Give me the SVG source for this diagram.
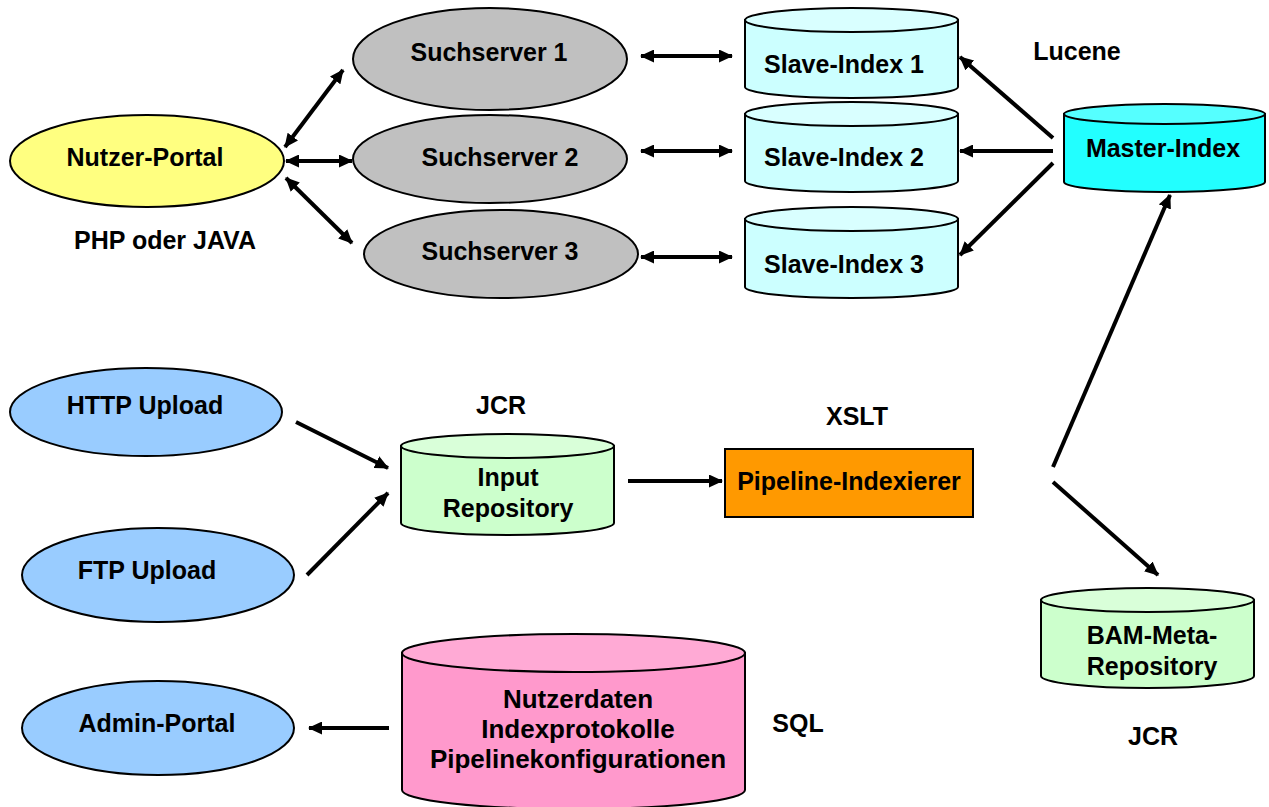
<svg xmlns="http://www.w3.org/2000/svg" width="1269" height="807" viewBox="0 0 1269 807">
  <defs>
    <style>
      .lbl { font-family: "Liberation Sans", Arial, sans-serif; font-weight: bold; font-size: 25px; fill: #000; text-anchor: middle; }
      .node { stroke: #000; stroke-width: 2; }
      .conn line { stroke: #000; stroke-width: 4; fill: none; }
      .one { marker-end: url(#head); }
      .two { marker-start: url(#head); marker-end: url(#head); }
    </style>
    <marker id="head" viewBox="0 0 14 13" refX="13" refY="6.5" markerWidth="14" markerHeight="13" markerUnits="userSpaceOnUse" orient="auto-start-reverse">
      <path d="M0,0 L14,6.5 L0,13 z" fill="#000"/>
    </marker>
  </defs>

  <rect width="1269" height="807" fill="#fff"/>

  <!-- connectors -->
  <g id="connectors" class="conn">
    <line class="two" x1="285" y1="147" x2="343" y2="70"/>
    <line class="two" x1="286" y1="161" x2="352" y2="161"/>
    <line class="two" x1="286" y1="178" x2="352" y2="243"/>
    <line class="two" x1="641" y1="56" x2="732" y2="56"/>
    <line class="two" x1="641" y1="151" x2="732" y2="151"/>
    <line class="two" x1="641" y1="257" x2="732" y2="257"/>
    <line class="one" x1="1053" y1="138" x2="960" y2="57"/>
    <line class="one" x1="1053" y1="151" x2="960" y2="151"/>
    <line class="one" x1="1053" y1="163" x2="960" y2="255"/>
    <line class="one" x1="296" y1="422" x2="388" y2="468"/>
    <line class="one" x1="307" y1="575" x2="388" y2="493"/>
    <line class="one" x1="628" y1="481" x2="722" y2="481"/>
    <line class="one" x1="389" y1="728" x2="309" y2="728"/>
    <line class="one" x1="1053" y1="467" x2="1170" y2="195"/>
    <line class="one" x1="1053" y1="482" x2="1158" y2="575"/>
  </g>

  <!-- portal and servers -->
  <g id="nutzer-portal">
    <ellipse class="node" cx="147" cy="161" rx="137" ry="46" fill="#FFFF80"/>
    <text class="lbl" x="145" y="166">Nutzer-Portal</text>
    <text class="lbl" x="165" y="249">PHP oder JAVA</text>
  </g>
  <g id="suchserver-1">
    <ellipse class="node" cx="490" cy="59" rx="137" ry="51" fill="#C0C0C0"/>
    <text class="lbl" x="489" y="61">Suchserver 1</text>
  </g>
  <g id="suchserver-2">
    <ellipse class="node" cx="490" cy="159" rx="137" ry="44" fill="#C0C0C0"/>
    <text class="lbl" x="500" y="166">Suchserver 2</text>
  </g>
  <g id="suchserver-3">
    <ellipse class="node" cx="501" cy="254" rx="137" ry="44" fill="#C0C0C0"/>
    <text class="lbl" x="500" y="260">Suchserver 3</text>
  </g>

  <!-- slave indexes -->
  <g id="slave-index-1">
    <path class="node" d="M745,20 L745,87 A106.5,11 0 0 0 958,87 L958,20 Z" fill="#CCFFFF"/>
    <ellipse class="node" cx="851.5" cy="20" rx="106.5" ry="12" fill="#D9FFFF"/>
    <text class="lbl" x="844" y="73">Slave-Index 1</text>
  </g>
  <g id="slave-index-2">
    <path class="node" d="M745,114 L745,181 A106.5,11 0 0 0 958,181 L958,114 Z" fill="#CCFFFF"/>
    <ellipse class="node" cx="851.5" cy="114" rx="106.5" ry="12" fill="#D9FFFF"/>
    <text class="lbl" x="844" y="166">Slave-Index 2</text>
  </g>
  <g id="slave-index-3">
    <path class="node" d="M745,219 L745,287 A106.5,11 0 0 0 958,287 L958,219 Z" fill="#CCFFFF"/>
    <ellipse class="node" cx="851.5" cy="219" rx="106.5" ry="12" fill="#D9FFFF"/>
    <text class="lbl" x="844" y="273">Slave-Index 3</text>
  </g>
  <text class="lbl" x="1077" y="60">Lucene</text>

  <g id="master-index">
    <path class="node" d="M1064,114 L1064,182 A100.5,10 0 0 0 1265,182 L1265,114 Z" fill="#22FFFF"/>
    <ellipse class="node" cx="1164.5" cy="114" rx="100.5" ry="10" fill="#55FFFF"/>
    <text class="lbl" x="1163" y="157">Master-Index</text>
  </g>

  <!-- upload sources -->
  <g id="http-upload">
    <ellipse class="node" cx="146" cy="412" rx="136" ry="44" fill="#99CCFF"/>
    <text class="lbl" x="145" y="414">HTTP Upload</text>
  </g>
  <g id="ftp-upload">
    <ellipse class="node" cx="158" cy="575" rx="136" ry="47" fill="#99CCFF"/>
    <text class="lbl" x="147" y="579">FTP Upload</text>
  </g>

  <g id="input-repository">
    <text class="lbl" x="501" y="414">JCR</text>
    <path class="node" d="M401,446 L401,523 A106.5,12 0 0 0 614,523 L614,446 Z" fill="#CCFFCC"/>
    <ellipse class="node" cx="507.5" cy="446" rx="106.5" ry="12" fill="#D9FFD9"/>
    <text class="lbl" x="508" y="486">Input</text>
    <text class="lbl" x="508" y="517">Repository</text>
  </g>

  <g id="pipeline-indexierer">
    <text class="lbl" x="857" y="425">XSLT</text>
    <rect class="node" x="725" y="449" width="248" height="68" fill="#FF9900"/>
    <text class="lbl" x="849" y="490">Pipeline-Indexierer</text>
  </g>

  <g id="bam-meta-repository">
    <path class="node" d="M1041,600 L1041,676 A106.5,12 0 0 0 1254,676 L1254,600 Z" fill="#CCFFCC"/>
    <ellipse class="node" cx="1147.5" cy="600" rx="106.5" ry="12" fill="#D9FFD9"/>
    <text class="lbl" x="1152" y="644">BAM-Meta-</text>
    <text class="lbl" x="1152" y="675">Repository</text>
    <text class="lbl" x="1153" y="745">JCR</text>
  </g>

  <!-- administration -->
  <g id="admin-portal">
    <ellipse class="node" cx="158" cy="728" rx="136" ry="47" fill="#99CCFF"/>
    <text class="lbl" x="157" y="732">Admin-Portal</text>
  </g>

  <g id="sql-database">
    <path class="node" d="M402,653 L402,790 A171.5,19 0 0 0 745,790 L745,653 Z" fill="#FF99CC"/>
    <ellipse class="node" cx="573.5" cy="653" rx="171.5" ry="19" fill="#FFAAD5"/>
    <text class="lbl" x="578" y="708" style="font-size:26px">Nutzerdaten</text>
    <text class="lbl" x="578" y="738" style="font-size:26px">Indexprotokolle</text>
    <text class="lbl" x="578" y="768" style="font-size:26px">Pipelinekonfigurationen</text>
    <text class="lbl" x="798" y="732">SQL</text>
  </g>
</svg>
